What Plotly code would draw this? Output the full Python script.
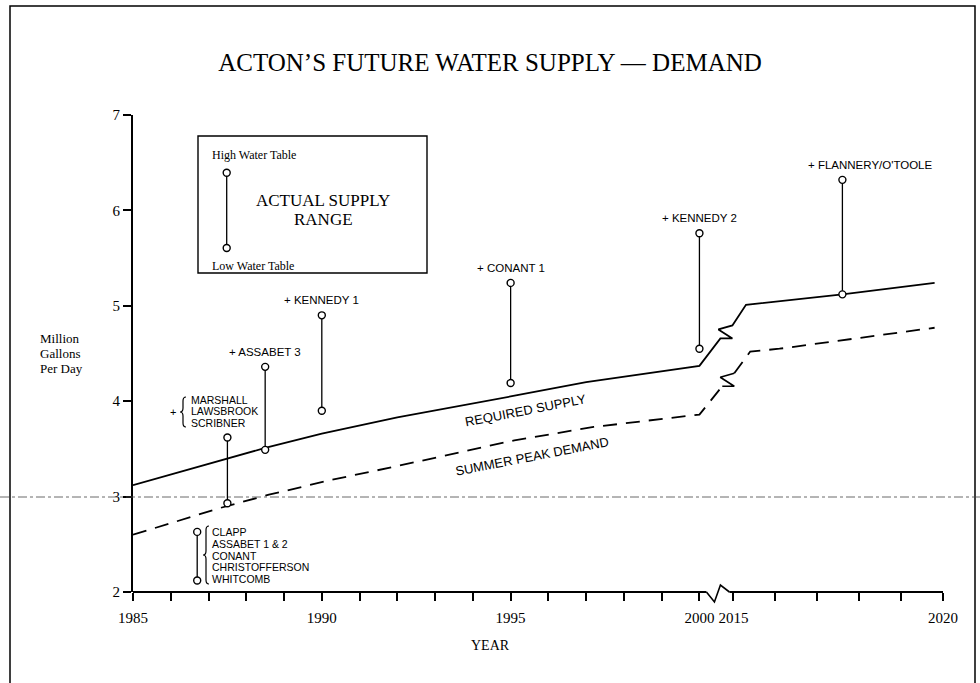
import plotly.graph_objects as go

# ---------------- data ----------------
req_years_before = [1985, 1986, 1987.5, 1988.5, 1990, 1992, 1995, 1997, 2000]
req_supply_before = [3.12, 3.23, 3.40, 3.51, 3.66, 3.83, 4.05, 4.20, 4.37]
req_years_after = [2015.3, 2017.6, 2019.8]
req_supply_after = [5.01, 5.12, 5.24]

peak_years_before = [1985, 1986, 1987.3, 1988.6, 1990.2, 1992, 1993.6, 1995.1, 1997.2, 2000]
peak_demand_before = [2.60, 2.72, 2.88, 3.02, 3.17, 3.32, 3.46, 3.59, 3.73, 3.86]
peak_years_after = [2015.4, 2016.1, 2019.8]
peak_demand_after = [4.52, 4.55, 4.77]

source_years = [1986.7, 1987.5, 1988.5, 1990, 1995, 2000, 2017.6]
low_water_table = [2.12, 2.93, 3.49, 3.90, 4.19, 4.55, 5.12]
high_water_table = [2.63, 3.62, 4.36, 4.90, 5.24, 5.76, 6.32]
source_labels = ["", "", "+ ASSABET 3", "+ KENNEDY 1", "+ CONANT 1", "+ KENNEDY 2", "+ FLANNERY/O'TOOLE"]

clapp_group = ["CLAPP", "ASSABET 1 & 2", "CONANT", "CHRISTOFFERSON", "WHITCOMB"]
marshall_group = ["MARSHALL", "LAWSBROOK", "SCRIBNER"]

x_tick_years = list(range(1985, 2001)) + list(range(2015, 2021))
x_labelled = [1985, 1990, 1995, 2000, 2015, 2020]
y_ticks = [2, 3, 4, 5, 6, 7]

# ---------------- layout geometry ----------------
W, H = 980, 683
L, R, T, B = 133, 37, 115, 91
PLOT_W = W - L - R
PLOT_H = H - T - B
GAP_WIDTH = 0.90      # axis units used by the 2000 / 2015 break
POST_SCALE = 1.11     # the 2015-2020 part is drawn slightly wider


def u(year):
    if year <= 2000:
        return year - 1985
    return 15 + GAP_WIDTH + (year - 2015) * POST_SCALE


U_MAX = u(2020)
PXU = PLOT_W / U_MAX
PXY = PLOT_H / 5.0


def pxx(px):
    return (px - L) / PLOT_W


def pxy(py):
    return (H - B - py) / PLOT_H


SERIF = "Liberation Serif, Times New Roman, serif"
SANS = "Liberation Sans, Arial, sans-serif"

Z_OFFSETS = [(12, 0), (-2, 9), (12, 13)]  # px offsets of the break symbol


def z_points(x0, y0, x1, y1, frac=0.45):
    ax = x0 + frac * (x1 - x0)
    ay = y0 + frac * (y1 - y0)
    xs, ys = [ax], [ay]
    for dx, dy in Z_OFFSETS:
        xs.append(ax + dx / PXU)
        ys.append(ay + dy / PXY)
    return xs, ys


fig = go.Figure()

# required supply (solid)
rx0 = [u(y) for y in req_years_before]
rx1 = [u(y) for y in req_years_after]
zx, zy = z_points(rx0[-1], req_supply_before[-1], rx1[0], req_supply_after[0])
fig.add_trace(go.Scatter(x=rx0 + zx + rx1, y=req_supply_before + zy + req_supply_after,
                         mode="lines", line=dict(color="black", width=1.8),
                         hoverinfo="skip", showlegend=False))

# summer peak demand (dashed)
px0 = [u(y) for y in peak_years_before]
px1 = [u(y) for y in peak_years_after]
dzx, dzy = z_points(px0[-1], peak_demand_before[-1], px1[0], peak_demand_after[0])
fig.add_trace(go.Scatter(x=px0 + [dzx[0], None, dzx[-1]] + px1,
                         y=peak_demand_before + [dzy[0], None, dzy[-1]] + peak_demand_after,
                         mode="lines", line=dict(color="black", width=1.8, dash="14px,9px"),
                         connectgaps=False, hoverinfo="skip", showlegend=False))
fig.add_trace(go.Scatter(x=dzx, y=dzy, mode="lines", line=dict(color="black", width=1.6),
                         hoverinfo="skip", showlegend=False))

# supply ranges
bx, by = [], []
for yr, lo, hi in zip(source_years, low_water_table, high_water_table):
    bx += [u(yr), u(yr), None]
    by += [lo, hi, None]
# legend example bar
LEG_X = (226.7 - L) / PXU
bx += [LEG_X, LEG_X, None]
by += [2 + (H - B - 248) / PXY, 2 + (H - B - 172.7) / PXY, None]
fig.add_trace(go.Scatter(x=bx, y=by, mode="lines+markers",
                         line=dict(color="black", width=1.3),
                         marker=dict(symbol="circle", size=7, color="white",
                                     line=dict(color="black", width=1.4)),
                         hoverinfo="skip", showlegend=False))

ann = []
shapes = []


def note(xp, yp, text, size, family=SERIF, xanchor="center", angle=0):
    ann.append(dict(x=pxx(xp), y=pxy(yp), xref="paper", yref="paper", text=text,
                    showarrow=False, xanchor=xanchor, yanchor="middle", textangle=angle,
                    font=dict(family=family, size=size, color="black")))


# single source labels
for yr, hi, lab in zip(source_years, high_water_table, source_labels):
    if not lab:
        continue
    xs = 28 if "FLANNERY" in lab else 0
    ann.append(dict(x=u(yr), y=hi, xref="x", yref="y", text=lab, showarrow=False,
                    xanchor="center", yanchor="middle", xshift=xs, yshift=15,
                    font=dict(family=SANS, size=11.5, color="black")))

# marshall group (left of its bar, above top)
mx, mhi = u(source_years[1]), high_water_table[1]
for i, name in enumerate(marshall_group):
    ann.append(dict(x=mx, y=mhi, xref="x", yref="y", text=name, showarrow=False,
                    xanchor="left", yanchor="middle", xshift=-38, yshift=37.7 - 11.5 * i,
                    font=dict(family=SANS, size=10.5, color="black")))
ann.append(dict(x=mx, y=mhi, xref="x", yref="y", text="+", showarrow=False,
                xanchor="center", yanchor="middle", xshift=-54, yshift=25.7,
                font=dict(family=SANS, size=11, color="black")))

# clapp group (right of its bar)
cx, chi = u(source_years[0]), high_water_table[0]
for i, name in enumerate(clapp_group):
    ann.append(dict(x=cx, y=chi, xref="x", yref="y", text=name, showarrow=False,
                    xanchor="left", yanchor="middle", xshift=13, yshift=-11.8 * i,
                    font=dict(family=SANS, size=10.5, color="black")))


def brace(cx_px, cy_px, h, w):
    xr = pxx(cx_px + w / 2)
    xm = pxx(cx_px)
    xl = pxx(cx_px - w / 2)
    top = pxy(cy_px - h / 2)
    bot = pxy(cy_px + h / 2)
    mid = pxy(cy_px)
    r = 4 / PLOT_H
    return (f"M {xr},{top} Q {xm},{top} {xm},{top - r} L {xm},{mid + r} "
            f"Q {xm},{mid} {xl},{mid} Q {xm},{mid} {xm},{mid - r} "
            f"L {xm},{bot + r} Q {xm},{bot} {xr},{bot}")


for cxp, cyp, hh in [(183, 412, 30), (206, 555, 58)]:
    shapes.append(dict(type="path", xref="paper", yref="paper", path=brace(cxp, cyp, hh, 6),
                       line=dict(color="black", width=1.2)))

# line labels
note(525, 410, "REQUIRED SUPPLY", 13, SANS, angle=-11)
note(532, 456, "SUMMER PEAK DEMAND", 13, SANS, angle=-11)

# legend box
shapes.append(dict(type="rect", xref="paper", yref="paper", x0=pxx(198), x1=pxx(427),
                   y0=pxy(273), y1=pxy(136), line=dict(color="black", width=1.4)))
note(210, 155, "High Water Table", 12, xanchor="left")
note(210, 266, "Low Water Table", 12, xanchor="left")
note(323, 200, "ACTUAL SUPPLY", 17)
note(323, 220, "RANGE", 17)

# y label
for i, t in enumerate(["Million", "Gallons", "Per Day"]):
    note(38, 338 + 15 * i, t, 13, xanchor="left")

# x label
note(490, 645, "YEAR", 14)

# x baseline with break
xa_px = L + u(2000) * PXU + 7
x_a = pxx(xa_px)
x_b = pxx(L + u(2015) * PXU - 4)
base = H - B
shapes.append(dict(type="line", xref="paper", yref="paper", x0=0, x1=x_a, y0=0, y1=0,
                   line=dict(color="black", width=1.8)))
shapes.append(dict(type="line", xref="paper", yref="paper", x0=x_b, x1=1, y0=0, y1=0,
                   line=dict(color="black", width=1.8)))
shapes.append(dict(type="path", xref="paper", yref="paper",
                   path=(f"M {x_a},{pxy(base)} L {pxx(xa_px + 8)},{pxy(base + 10)} "
                         f"L {pxx(xa_px + 14)},{pxy(base - 7)} L {x_b},{pxy(base)}"),
                   line=dict(color="black", width=1.6)))

# page frame and scan line
shapes.append(dict(type="rect", xref="paper", yref="paper", x0=pxx(10), x1=pxx(975),
                   y0=pxy(720), y1=pxy(6), line=dict(color="black", width=1.5)))
shapes.append(dict(type="line", xref="paper", yref="paper", x0=pxx(0), x1=pxx(980),
                   y0=pxy(497), y1=pxy(497), line=dict(color="#444", width=0.8, dash="dashdot")))

fig.update_layout(
    width=W, height=H, autosize=False,
    margin=dict(l=L, r=R, t=T, b=B),
    paper_bgcolor="white", plot_bgcolor="white",
    title=dict(text="ACTON\u2019S FUTURE WATER SUPPLY \u2014 DEMAND", x=490 / W, y=1 - 62 / H,
               xref="container", yref="container", xanchor="center", yanchor="middle",
               font=dict(family=SERIF, size=25, color="black")),
    annotations=ann, shapes=shapes,
    xaxis=dict(range=[0, U_MAX], showgrid=False, zeroline=False, showline=False,
               tickmode="array", tickvals=[u(y) for y in x_tick_years],
               ticktext=[str(y) if y in x_labelled else "" for y in x_tick_years],
               ticks="outside", ticklen=8, tickwidth=1.5, tickcolor="black",
               ticklabelstandoff=4,
               tickfont=dict(family=SERIF, size=15, color="black")),
    yaxis=dict(range=[2, 7], showgrid=False, zeroline=False, showline=True,
               linecolor="black", linewidth=1.8, tickvals=y_ticks,
               ticks="outside", ticklen=8, tickwidth=1.5, tickcolor="black",
               tickfont=dict(family=SERIF, size=15, color="black")),
)

fig.write_html("out.html", config={"displayModeBar": False},
               post_script="document.body.style.margin='0';document.body.style.overflow='hidden';")
